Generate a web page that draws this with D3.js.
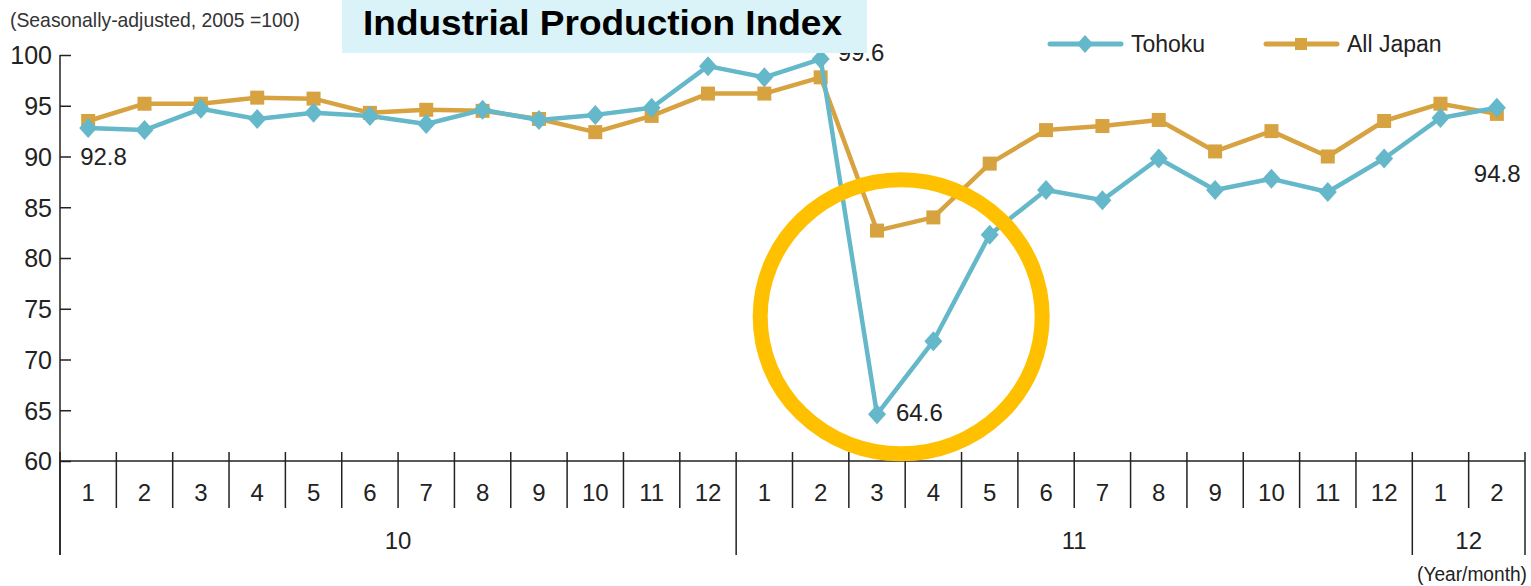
<!DOCTYPE html>
<html>
<head>
<meta charset="utf-8">
<script src="https://cdn.jsdelivr.net/npm/d3@7"></script>
<style>
  body { margin: 0; background: #fff; }
  svg { display: block; font-family: "Liberation Sans", Arial, sans-serif; }
</style>
</head>
<body>
<div id="chart"></div>
<script>
// Industrial Production Index, Tohoku vs All Japan (2010/1 - 2012/2)
const months = [1,2,3,4,5,6,7,8,9,10,11,12, 1,2,3,4,5,6,7,8,9,10,11,12, 1,2];
const yearLabels = ["10", "11", "12"];
const yearSpans = [12, 12, 2];

const tohoku = [92.8, 92.6, 94.7, 93.7, 94.3, 94.0, 93.2, 94.6, 93.6, 94.1, 94.8, 98.9,
                97.8, 99.6, 64.6, 71.8, 82.3, 86.7, 85.7, 89.8, 86.7, 87.8, 86.5, 89.8,
                93.8, 94.8];
const allJapan = [93.5, 95.2, 95.2, 95.8, 95.7, 94.3, 94.6, 94.5, 93.7, 92.4, 94.0, 96.2,
                  96.2, 97.8, 82.7, 84.0, 89.3, 92.6, 93.0, 93.6, 90.5, 92.5, 90.0, 93.5,
                  95.2, 94.2];
const yTicks = [60, 65, 70, 75, 80, 85, 90, 95, 100];
// labelled points: index into tohoku, offset of the text
const callouts = [
  { i: 0,  dx: -8, dy: 37 },
  { i: 13, dx: 17, dy: 2 },
  { i: 14, dx: 19, dy: 7 },
  { i: 25, dx: -23, dy: 74 }
];

const W = 1531, H = 586;
const plotLeft = 60, plotRight = 1525, plotTop = 55, plotBottom = 461;
const teal = "#65b8c9", gold = "#d7a240";

const svg = d3.select("#chart").append("svg")
    .attr("width", W)
    .attr("height", H);

const x = d3.scaleBand()
    .domain(d3.range(months.length))
    .range([plotLeft, plotRight])
    .padding(0);

const y = d3.scaleLinear()
    .domain([60, 100])
    .range([plotBottom, plotTop]);

const cx = i => x(i) + x.bandwidth() / 2;

// y axis, ticks pointing inward
const yAxis = svg.append("g")
    .attr("transform", `translate(${plotLeft},0)`)
    .call(d3.axisRight(y).tickValues(yTicks).tickSize(11).tickFormat(d3.format("d")));
yAxis.select(".domain").remove();
yAxis.selectAll("line").attr("stroke", "#222").attr("stroke-width", 1.5);
yAxis.selectAll("text")
    .attr("x", -8)
    .attr("dy", "0.35em")
    .attr("text-anchor", "end")
    .style("font-family", "Liberation Sans, Arial, sans-serif")
    .style("font-size", "25px")
    .attr("fill", "#222");

svg.append("line")
    .attr("x1", plotLeft).attr("x2", plotLeft)
    .attr("y1", y(100)).attr("y2", 555)
    .attr("stroke", "#222").attr("stroke-width", 1.5);

// x axis: baseline, month ticks, year dividers
svg.append("line")
    .attr("x1", plotLeft).attr("x2", plotRight)
    .attr("y1", plotBottom).attr("y2", plotBottom)
    .attr("stroke", "#222").attr("stroke-width", 1.5);

const yearStarts = [0];
yearSpans.forEach((n, k) => yearStarts.push(yearStarts[k] + n));

const edges = d3.range(months.length + 1);
svg.append("g").selectAll("line")
    .data(edges)
    .join("line")
    .attr("x1", i => i < months.length ? x(i) : plotRight)
    .attr("x2", i => i < months.length ? x(i) : plotRight)
    .attr("y1", 452)
    .attr("y2", i => yearStarts.includes(i) ? 555 : 508)
    .attr("stroke", "#222")
    .attr("stroke-width", 1.5);

svg.append("g").selectAll("text")
    .data(months)
    .join("text")
    .attr("x", (d, i) => cx(i))
    .attr("y", 501)
    .attr("text-anchor", "middle")
    .style("font-size", "24px")
    .attr("fill", "#222")
    .text(d => d);

svg.append("g").selectAll("text")
    .data(yearLabels)
    .join("text")
    .attr("x", (d, k) => {
      const a = x(yearStarts[k]);
      const b = yearStarts[k + 1] < months.length ? x(yearStarts[k + 1]) : plotRight;
      return (a + b) / 2;
    })
    .attr("y", 549)
    .attr("text-anchor", "middle")
    .style("font-size", "24px")
    .attr("fill", "#222")
    .text(d => d);

svg.append("text")
    .attr("x", 1527)
    .attr("y", 581)
    .attr("text-anchor", "end")
    .attr("textLength", 110)
    .attr("lengthAdjust", "spacingAndGlyphs")
    .style("font-family", "Liberation Sans Narrow, Liberation Sans, Arial, sans-serif")
    .style("font-size", "20px")
    .attr("fill", "#222")
    .text("(Year/month)");

svg.append("text")
    .attr("x", 10)
    .attr("y", 27)
    .attr("textLength", 290)
    .attr("lengthAdjust", "spacingAndGlyphs")
    .style("font-family", "Liberation Sans Narrow, Liberation Sans, Arial, sans-serif")
    .style("font-size", "21px")
    .attr("fill", "#333")
    .text("(Seasonally-adjusted, 2005 =100)");

// Lines
const line = d3.line()
    .x((d, i) => cx(i))
    .y(d => y(d));

svg.append("path")
    .datum(allJapan)
    .attr("fill", "none")
    .attr("stroke", gold)
    .attr("stroke-width", 4.5)
    .attr("stroke-linejoin", "round")
    .attr("d", line);

svg.append("g").selectAll("rect")
    .data(allJapan)
    .join("rect")
    .attr("x", (d, i) => cx(i) - 7)
    .attr("y", d => y(d) - 7)
    .attr("width", 14)
    .attr("height", 14)
    .attr("fill", gold);

svg.append("path")
    .datum(tohoku)
    .attr("fill", "none")
    .attr("stroke", teal)
    .attr("stroke-width", 4.5)
    .attr("stroke-linejoin", "round")
    .attr("d", line);

const diamond = (r) => `M0,${-r}L${r * 0.9},0L0,${r}L${-r * 0.9},0Z`;

svg.append("g").selectAll("path")
    .data(tohoku)
    .join("path")
    .attr("transform", (d, i) => `translate(${cx(i)},${y(d)})`)
    .attr("d", diamond(10))
    .attr("fill", teal);

// value labels
svg.append("g").selectAll("text")
    .data(callouts)
    .join("text")
    .attr("x", d => cx(d.i) + d.dx)
    .attr("y", d => y(tohoku[d.i]) + d.dy)
    .attr("text-anchor", "start")
    .style("font-size", "24px")
    .attr("fill", "#222")
    .text(d => tohoku[d.i].toFixed(1));

// Legend
const legend = [
  { name: "Tohoku", color: teal, x: 1050, shape: "diamond" },
  { name: "All Japan", color: gold, x: 1266, shape: "square" }
];
const lg = svg.append("g").selectAll("g")
    .data(legend)
    .join("g")
    .attr("transform", d => `translate(${d.x},44)`);
lg.append("line")
    .attr("x1", 0).attr("x2", 71)
    .attr("stroke", d => d.color)
    .attr("stroke-width", 5)
    .attr("stroke-linecap", "round");
lg.append("path")
    .attr("transform", "translate(35,0)")
    .attr("d", d => d.shape === "diamond" ? diamond(9) : "M-6,-6H6V6H-6Z")
    .attr("fill", d => d.color);
lg.append("text")
    .attr("x", 81)
    .attr("y", 8)
    .style("font-size", "23px")
    .attr("fill", "#222")
    .text(d => d.name);

// highlight ring around the March 2011 drop
svg.append("ellipse")
    .attr("cx", (x(14) + x(15) + x.bandwidth()) / 2 - 4)
    .attr("cy", y(74.2))
    .attr("rx", 141)
    .attr("ry", 137)
    .attr("fill", "none")
    .attr("stroke", "#ffc000")
    .attr("stroke-width", 15);

// title box
svg.append("rect")
    .attr("x", 342).attr("y", 0)
    .attr("width", 525).attr("height", 53)
    .attr("fill", "#daf3f8");
svg.append("text")
    .attr("x", 363)
    .attr("y", 35)
    .attr("textLength", 479)
    .attr("lengthAdjust", "spacingAndGlyphs")
    .style("font-size", "35px")
    .style("font-weight", "bold")
    .attr("fill", "#000")
    .text("Industrial Production Index");
</script>
</body>
</html>
